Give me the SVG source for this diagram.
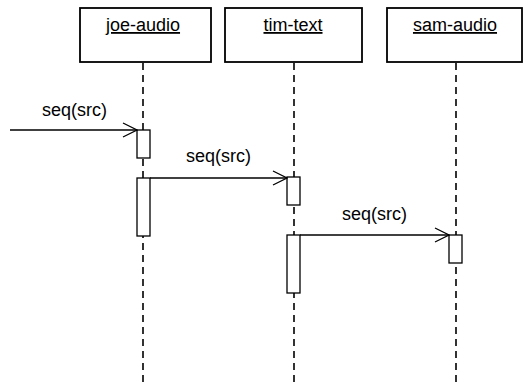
<svg xmlns="http://www.w3.org/2000/svg" width="523" height="384" viewBox="0 0 523 384">
<defs>
<marker id="open" markerWidth="16" markerHeight="16" refX="15" refY="8" orient="auto" markerUnits="userSpaceOnUse">
<path d="M1,1 L15,8 L1,15" fill="none" stroke="#000" stroke-width="1.3"/>
</marker>
<style>
.box{fill:#fff;stroke:#000;stroke-width:1.8}
.title{font-family:"Liberation Sans",Arial,sans-serif;font-size:18px;text-anchor:middle;text-decoration:underline;fill:#000}
.life{stroke:#000;stroke-width:1.6;stroke-dasharray:7 5;fill:none}
.act{fill:#fff;stroke:#000;stroke-width:1.3}
.msg{stroke:#000;stroke-width:1.3;fill:none;marker-end:url(#open)}
.lbl{font-family:"Liberation Sans",Arial,sans-serif;font-size:18px;fill:#000}
</style>
</defs>
<rect width="523" height="384" fill="#fff"/>
<g id="lifelines">
<line class="life" x1="143" y1="63" x2="143" y2="384"/>
<line class="life" x1="294" y1="63" x2="294" y2="384"/>
<line class="life" x1="456" y1="63" x2="456" y2="384"/>
</g>
<g id="joe-audio">
<rect class="box" x="80" y="8" width="131" height="54"/>
<text class="title" x="143" y="31">joe-audio</text>
<rect class="act" x="137" y="130" width="13" height="28"/>
<rect class="act" x="137" y="178" width="13" height="58"/>
</g>
<g id="tim-text">
<rect class="box" x="225" y="8" width="137" height="54"/>
<text class="title" x="293" y="31">tim-text</text>
<rect class="act" x="287" y="177" width="13" height="28"/>
<rect class="act" x="287" y="235" width="13" height="58"/>
</g>
<g id="sam-audio">
<rect class="box" x="387" y="8" width="135" height="54"/>
<text class="title" x="455" y="31">sam-audio</text>
<rect class="act" x="449" y="235" width="13" height="28"/>
</g>
<g id="connectors">
<line class="msg" x1="10" y1="130" x2="137" y2="130"/>
<line class="msg" x1="150" y1="178" x2="287" y2="178"/>
<line class="msg" x1="300" y1="235" x2="449" y2="235"/>
</g>
<g id="labels">
<text class="lbl" x="42" y="116">seq(src)</text>
<text class="lbl" x="186" y="162">seq(src)</text>
<text class="lbl" x="342" y="220">seq(src)</text>
</g>
</svg>
